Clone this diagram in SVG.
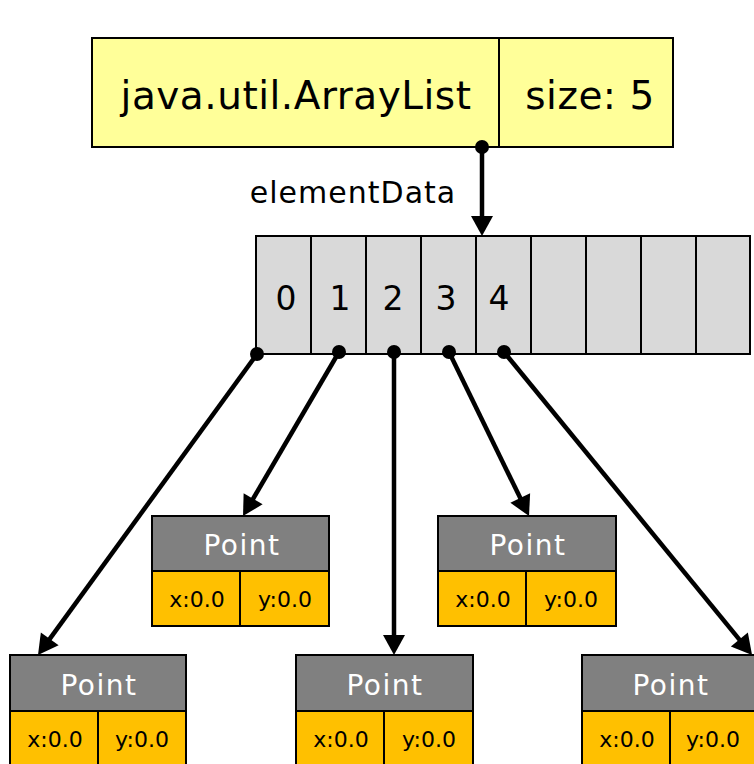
<svg xmlns="http://www.w3.org/2000/svg" width="754" height="764" viewBox="0 0 754 764">
<defs>
<style>
text{font-family:"DejaVu Sans","Liberation Sans",sans-serif;text-anchor:middle}
.yb{fill:#FFFF99;stroke:#000;stroke-width:2}
.cell{fill:#D9D9D9;stroke:#000;stroke-width:2}
.hdr{fill:#808080;stroke:#000;stroke-width:2}
.fld{fill:#FFC000;stroke:#000;stroke-width:2}
.big{font-size:39px;fill:#000;letter-spacing:0.5px}
.idx{font-size:33px;fill:#000}
.pt{font-size:28px;fill:#fff;letter-spacing:1.5px}
.fv{font-size:22px;fill:#000}
.lbl{font-size:30px;fill:#000;letter-spacing:1px}
.conn line{stroke:#000;stroke-width:4.5}
.dot{fill:#000}
</style>
<marker id="ah" markerUnits="userSpaceOnUse" markerWidth="24" markerHeight="24" viewBox="0 -12 22 24" refX="4" refY="0" orient="auto">
<path d="M0,-11 L20,0 L0,11 z" fill="#000"/>
</marker>
</defs>
<rect width="754" height="764" fill="#fff"/>
<g id="arraylist">
<rect class="yb" x="92" y="38" width="407" height="109"/>
<rect class="yb" x="499" y="38" width="174" height="109"/>
<text class="big" x="296" y="109">java.util.ArrayList</text>
<text class="big" x="590" y="109">size: 5</text>
</g>
<g id="array">
<rect class="cell" x="256" y="236" width="55" height="118"/>
<rect class="cell" x="311" y="236" width="55" height="118"/>
<rect class="cell" x="366" y="236" width="55" height="118"/>
<rect class="cell" x="421" y="236" width="55" height="118"/>
<rect class="cell" x="476" y="236" width="55" height="118"/>
<rect class="cell" x="531" y="236" width="55" height="118"/>
<rect class="cell" x="586" y="236" width="55" height="118"/>
<rect class="cell" x="641" y="236" width="55" height="118"/>
<rect class="cell" x="696" y="236" width="54" height="118"/>
<text class="idx" x="286" y="310">0</text>
<text class="idx" x="340" y="310">1</text>
<text class="idx" x="393" y="310">2</text>
<text class="idx" x="446" y="310">3</text>
<text class="idx" x="499" y="310">4</text>
</g>
<g id="point1">
<rect class="hdr" x="152" y="516" width="177" height="55"/>
<rect class="fld" x="152" y="571" width="88" height="55"/>
<rect class="fld" x="240" y="571" width="89" height="55"/>
<text class="pt" x="242" y="555">Point</text>
<text class="fv" x="197" y="607">x:0.0</text>
<text class="fv" x="285" y="607">y:0.0</text>
</g>
<g id="point3">
<rect class="hdr" x="438" y="516" width="178" height="55"/>
<rect class="fld" x="438" y="571" width="88" height="55"/>
<rect class="fld" x="526" y="571" width="90" height="55"/>
<text class="pt" x="528" y="555">Point</text>
<text class="fv" x="483" y="607">x:0.0</text>
<text class="fv" x="571" y="607">y:0.0</text>
</g>
<g id="point0">
<rect class="hdr" x="10" y="655" width="176" height="56"/>
<rect class="fld" x="10" y="711" width="88" height="56"/>
<rect class="fld" x="98" y="711" width="88" height="56"/>
<text class="pt" x="99" y="695">Point</text>
<text class="fv" x="55" y="747">x:0.0</text>
<text class="fv" x="142" y="747">y:0.0</text>
</g>
<g id="point2">
<rect class="hdr" x="296" y="655" width="177" height="56"/>
<rect class="fld" x="296" y="711" width="88" height="56"/>
<rect class="fld" x="384" y="711" width="89" height="56"/>
<text class="pt" x="385" y="695">Point</text>
<text class="fv" x="341" y="747">x:0.0</text>
<text class="fv" x="429" y="747">y:0.0</text>
</g>
<g id="point4">
<rect class="hdr" x="582" y="655" width="176" height="56"/>
<rect class="fld" x="582" y="711" width="88" height="56"/>
<rect class="fld" x="670" y="711" width="88" height="56"/>
<text class="pt" x="671" y="695">Point</text>
<text class="fv" x="627" y="747">x:0.0</text>
<text class="fv" x="713" y="747">y:0.0</text>
</g>
<g id="connectors" class="conn">
<line x1="482" y1="147" x2="482" y2="220" marker-end="url(#ah)"/>
<circle class="dot" cx="482" cy="147" r="7"/>
<text class="lbl" x="353" y="203">elementData</text>
<line x1="257" y1="354" x2="47.4" y2="642.1" marker-end="url(#ah)"/>
<line x1="339" y1="352" x2="251.1" y2="502.2" marker-end="url(#ah)"/>
<line x1="394" y1="352" x2="394" y2="639" marker-end="url(#ah)"/>
<line x1="449" y1="352" x2="522" y2="501.6" marker-end="url(#ah)"/>
<line x1="504" y1="352" x2="741.9" y2="642.6" marker-end="url(#ah)"/>
<circle class="dot" cx="257" cy="354" r="7"/>
<circle class="dot" cx="339" cy="352" r="7"/>
<circle class="dot" cx="394" cy="352" r="7"/>
<circle class="dot" cx="449" cy="352" r="7"/>
<circle class="dot" cx="504" cy="352" r="7"/>
</g>
</svg>
